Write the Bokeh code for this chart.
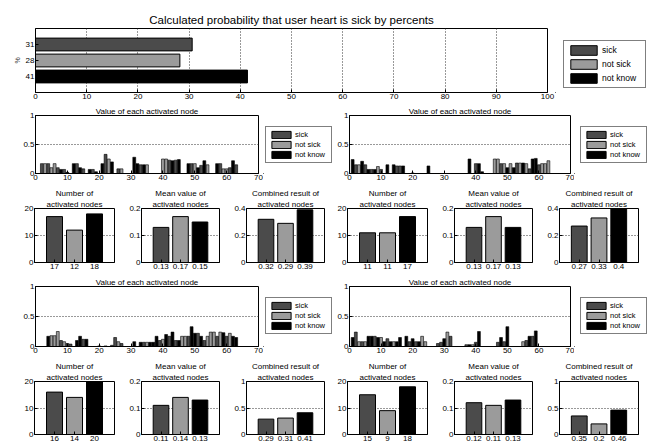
from bokeh.plotting import figure
from bokeh.models import Range1d, FixedTicker, Legend, LegendItem, Title, ColumnDataSource
from bokeh.layouts import row, column
from bokeh.embed import file_html
from bokeh.resources import INLINE

FONT = "Liberation Sans"
CATEGORIES = ["sick", "not sick", "not know"]
COLORS = ["#4b4b4b", "#9b9b9b", "#000000"]
S, N, K = 0, 1, 2

MAIN_TITLE = "Calculated probability that user heart is sick by percents"
PERCENTS = [30.6, 28.2, 41.4]
PERCENT_LABELS = ["31", "28", "41"]
PERCENT_TICKS = [0, 10, 20, 30, 40, 50, 60, 70, 80, 90, 100]

NODE_TITLE = "Value of each activated node"
NODE_TICKS = [0, 10, 20, 30, 40, 50, 60, 70]
SMALL_TITLES = ["Number of", "Mean value of", "Combined result of"]
SMALL_SUB = "activated nodes"

# block 1 (upper left)
B1_NODES = [2, 3, 4, 5, 6, 7, 8, 9, 10, 12, 13, 14, 15, 17, 18, 19, 21, 22, 23, 24, 26, 27,
            31, 32, 33, 34, 35, 40, 41, 42, 43, 44, 45, 48, 49, 50, 51, 52, 53, 54,
            57, 58, 59, 60, 61, 62, 63]
B1_VALUES = [.17, .17, .17, .10, .17, .10, .07, .07, .02, .17, .17, .10, .08, .07, .07, .03,
             .17, .33, .25, .20, .08, .08, .28, .17, .15, .15, .15, .25, .25, .23, .22, .23,
             .24, .17, .17, .17, .10, .14, .22, .15, .17, .17, .08, .08, .10, .22, .15]
B1_CLASS = [S, N, S, N, N, S, K, S, K, K, S, K, S, K, S, K, K, S, N, K, S, N,
            K, K, S, K, N, N, N, S, K, S, K, K, S, N, K, S, K, N,
            K, S, N, N, S, K, S]
B1_COUNT = [17, 12, 18]
B1_MEAN = [0.13, 0.17, 0.15]
B1_COMB = [0.32, 0.29, 0.39]

# block 2 (upper right)
B2_NODES = [1, 2, 3, 4, 5, 6, 7, 8, 9, 10, 12, 14, 15, 16, 17, 20, 25, 38, 40, 41, 42,
            46, 47, 48, 49, 50, 51, 52, 53, 54, 55, 56, 57, 58, 59, 60, 61, 62, 63]
B2_VALUES = [.24, .15, .15, .21, .15, .07, .07, .07, .12, .07, .15, .15, .13, .13, .13, .01,
             .13, .25, .17, .17, .03, .25, .25, .17, .17, .10, .17, .10, .18, .18, .18, .17,
             .08, .25, .26, .15, .17, .17, .22]
B2_CLASS = [K, S, N, K, S, K, S, K, N, S, K, K, S, S, K, K, K, K, S, K, K,
            N, N, S, N, K, N, K, S, N, K, N, S, K, K, S, N, N, N]
B2_COUNT = [11, 11, 17]
B2_MEAN = [0.13, 0.17, 0.13]
B2_COMB = [0.27, 0.33, 0.4]

# block 3 (lower left)
B3_NODES = [4, 5, 6, 7, 8, 9, 10, 11, 13, 14, 15, 16, 20, 22, 24, 25, 26, 27, 31, 33, 34,
            35, 36, 37, 38, 39, 40, 41, 42, 43, 44, 45, 46, 47, 48, 49, 50, 51, 52, 53,
            54, 55, 56, 57, 58, 59, 60, 61, 62, 63]
B3_VALUES = [.17, .18, .18, .25, .10, .08, .05, .04, .10, .17, .12, .12, .01, .01, .02, .15,
             .08, .05, .08, .07, .07, .07, .07, .07, .17, .10, .12, .20, .17, .24, .10, .10,
             .17, .17, .17, .33, .22, .22, .17, .10, .17, .24, .24, .17, .24, .23, .17, .22,
             .17, .15]
B3_CLASS = [K, N, N, N, S, N, S, S, K, K, S, K, K, K, S, S, N, S, K, K, S,
            N, K, K, K, S, N, K, S, K, S, K, N, N, S, K, K, S, K, S,
            N, N, N, S, N, K, S, N, K, K]
B3_COUNT = [16, 14, 20]
B3_MEAN = [0.11, 0.14, 0.13]
B3_COMB = [0.29, 0.31, 0.41]

# block 4 (lower right)
B4_NODES = [1, 2, 3, 4, 5, 6, 7, 8, 9, 10, 11, 12, 13, 14, 15, 16, 18, 19, 20, 21, 22, 23,
            24, 28, 29, 30, 31, 32, 37, 38, 39, 40, 41, 47, 48, 49, 50, 55, 56, 57, 58, 59]
B4_VALUES = [.15, .24, .08, .08, .08, .17, .17, .17, .15, .15, .08, .13, .08, .08, .08, .15,
             .17, .08, .13, .08, .08, .17, .08, .05, .07, .13, .24, .17, .03, .03, .03, .07,
             .25, .07, .15, .08, .33, .08, .10, .17, .17, .26]
B4_CLASS = [K, S, N, S, N, K, K, S, K, N, K, S, K, N, K, K, K, S, K, S, K, N,
            N, S, S, K, N, S, S, K, N, S, K, S, K, S, K, N, S, K, S, K]
B4_COUNT = [15, 9, 18]
B4_MEAN = [0.12, 0.11, 0.13]
B4_COMB = [0.35, 0.2, 0.46]

COUNT_TICKS = [0, 10, 20]
MEAN_TICKS = [0, 0.1, 0.2]
COMB_TICKS_UPPER = [0, 0.2, 0.4]
COMB_TICKS_LOWER = [0, 0.5, 1]


def fmt(v):
    return format(v, "g")


def style_axis(ax, size="8px"):
    ax.axis_line_color = "black"
    ax.major_tick_line_color = "black"
    ax.major_tick_in = 3
    ax.major_tick_out = 0
    ax.minor_tick_line_color = None
    ax.major_label_text_font = FONT
    ax.major_label_text_font_size = size
    ax.major_label_text_color = "black"
    ax.major_label_standoff = 1


def dotted(grid):
    grid.visible = True
    grid.grid_line_color = "#333333"
    grid.grid_line_dash = "1 2"
    grid.grid_line_width = 1


def base_fig(w, h, l, r, t, b, xr, yr):
    p = figure(width=w, height=h, x_range=xr, y_range=yr, output_backend="svg",
               toolbar_location=None, title=None,
               min_border_left=l, min_border_right=r, min_border_top=t, min_border_bottom=b)
    p.background_fill_color = "white"
    p.border_fill_color = "white"
    p.outline_line_color = "black"
    p.outline_line_alpha = 1
    p.outline_line_width = 1
    style_axis(p.xaxis[0])
    style_axis(p.yaxis[0])
    p.xgrid.visible = False
    p.ygrid.visible = False
    return p


def add_title(p, text, size, standoff):
    p.add_layout(Title(text=text, align="center", text_font=FONT, text_font_size=size,
                       text_font_style="normal", text_color="black", standoff=standoff,
                       text_line_height=1.0), "above")


def legend_fig(w, h, loc, gw, gh, fs, lw, spacing):
    """A frame-only figure that carries the category legend."""
    p = figure(width=w, height=h, x_range=Range1d(0, 1), y_range=Range1d(0, 1),
               output_backend="svg", toolbar_location=None, title=None,
               x_axis_location=None, y_axis_location=None, min_border=0)
    p.outline_line_color = None
    p.background_fill_color = "white"
    p.border_fill_color = "white"
    p.xgrid.visible = False
    p.ygrid.visible = False
    items = []
    for c, name in enumerate(CATEGORIES):
        # legend-only swatch renderer, kept outside the visible range
        rr = p.vbar(x=[-10], top=[0], width=1, bottom=0, fill_color=COLORS[c],
                    line_color="black", line_width=1)
        items.append(LegendItem(label=name, renderers=[rr]))
    p.add_layout(Legend(items=items, location=loc, margin=0, padding=3, spacing=spacing,
                        glyph_width=gw, glyph_height=gh, label_height=gh, label_width=lw,
                        label_standoff=2, label_text_font=FONT, label_text_font_size=fs,
                        label_text_color="black",
                        border_line_color="black", border_line_width=1,
                        background_fill_color="white", background_fill_alpha=1))
    return p


# ---------------- top panel ----------------
top = base_fig(555, 104, 35, 8, 28, 12, Range1d(0, 100), Range1d(0, 4))
add_title(top, MAIN_TITLE, "11.5px", 6)
ypos = [3, 2, 1]
src = ColumnDataSource(dict(y=ypos, right=PERCENTS, color=COLORS))
top.hbar(y="y", right="right", height=0.8, left=0, fill_color="color",
         line_color="black", line_width=1, source=src)
top.xaxis.ticker = FixedTicker(ticks=PERCENT_TICKS)
top.yaxis.ticker = FixedTicker(ticks=ypos)
top.yaxis.major_label_overrides = {y: lab for y, lab in zip(ypos, PERCENT_LABELS)}
top.yaxis.axis_label = "%"
top.yaxis.axis_label_text_font = FONT
top.yaxis.axis_label_text_font_size = "7px"
top.yaxis.axis_label_text_font_style = "normal"
top.yaxis.axis_label_standoff = 2
dotted(top.xgrid[0])
rowA = row(top, legend_fig(99, 104, (8, 4), 33, 12, "8.5px", 40, 2), spacing=0)


# ---------------- node panels ----------------
def node_panel(nodes, values, classes, w, h, l, r, t, b):
    p = base_fig(w, h, l, r, t, b, Range1d(0, 70), Range1d(0, 1))
    add_title(p, NODE_TITLE, "8px", 0)
    for c in range(len(CATEGORIES)):
        xs = [n for n, k in zip(nodes, classes) if k == c]
        ys = [v for v, k in zip(values, classes) if k == c]
        p.vbar(x=xs, top=ys, width=0.9, bottom=0, fill_color=COLORS[c],
               line_color="black", line_width=0.6)
    p.xaxis.ticker = FixedTicker(ticks=NODE_TICKS)
    p.yaxis.ticker = FixedTicker(ticks=[0, 0.5, 1])
    p.yaxis.major_label_overrides = {0: "0", 0.5: "0.5", 1: "1"}
    dotted(p.ygrid[0])
    return p


def small_panel(values, ticks, title, w, h, l, r, t, b, standoff):
    p = base_fig(w, h, l, r, t, b, Range1d(0, 4), Range1d(ticks[0], ticks[-1]))
    add_title(p, SMALL_SUB, "8px", standoff)
    add_title(p, title, "8px", 0)
    xs = [1, 2, 3]
    p.vbar(x=xs, top=values, width=0.8, bottom=0, fill_color=COLORS,
           line_color="black", line_width=1)
    p.xaxis.ticker = FixedTicker(ticks=xs)
    p.xaxis.major_label_overrides = {x: fmt(v) for x, v in zip(xs, values)}
    p.yaxis.ticker = FixedTicker(ticks=ticks)
    p.yaxis.major_label_overrides = {tk: fmt(tk) for tk in ticks}
    dotted(p.ygrid[0])
    return p


SMALL_GEOM = [(126, 34, 12), (105, 13, 12), (103, 13, 10),
              (105, 12, 12), (105, 12, 12), (110, 13, 16)]


def small_row(blocks, comb_ticks, h, t, b, standoff):
    figs = []
    i = 0
    for cnt, mean, comb in blocks:
        for vals, ticks, title in ((cnt, COUNT_TICKS, SMALL_TITLES[0]),
                                   (mean, MEAN_TICKS, SMALL_TITLES[1]),
                                   (comb, comb_ticks, SMALL_TITLES[2])):
            w, l, r = SMALL_GEOM[i]
            figs.append(small_panel(vals, ticks, title, w, h, l, r, t, b, standoff))
            i += 1
    return row(*figs, spacing=0)


def node_row(left, right, h, legend_bottom):
    return row(node_panel(*left, 263, h, 35, 5, 11, 11),
               legend_fig(71, h, (2, legend_bottom), 24, 9, "7.5px", 33, 1),
               node_panel(*right, 240, h, 14, 4, 11, 11),
               legend_fig(80, h, (6, legend_bottom), 24, 9, "7.5px", 33, 1),
               spacing=0)


rowB = node_row((B1_NODES, B1_VALUES, B1_CLASS), (B2_NODES, B2_VALUES, B2_CLASS), 80, 10)
rowC = small_row([(B1_COUNT, B1_MEAN, B1_COMB), (B2_COUNT, B2_MEAN, B2_COMB)],
                 COMB_TICKS_UPPER, 91, 24, 13, 0)
rowD = node_row((B3_NODES, B3_VALUES, B3_CLASS), (B4_NODES, B4_VALUES, B4_CLASS), 82, 12)
rowE = small_row([(B3_COUNT, B3_MEAN, B3_COMB), (B4_COUNT, B4_MEAN, B4_COMB)],
                 COMB_TICKS_LOWER, 89, 24, 12, 0)

p = column(rowA, rowB, rowC, rowD, rowE, spacing=0, width=654, height=442,
           styles={"overflow": "hidden"})

open("out.html", "w").write(file_html(p, INLINE))
